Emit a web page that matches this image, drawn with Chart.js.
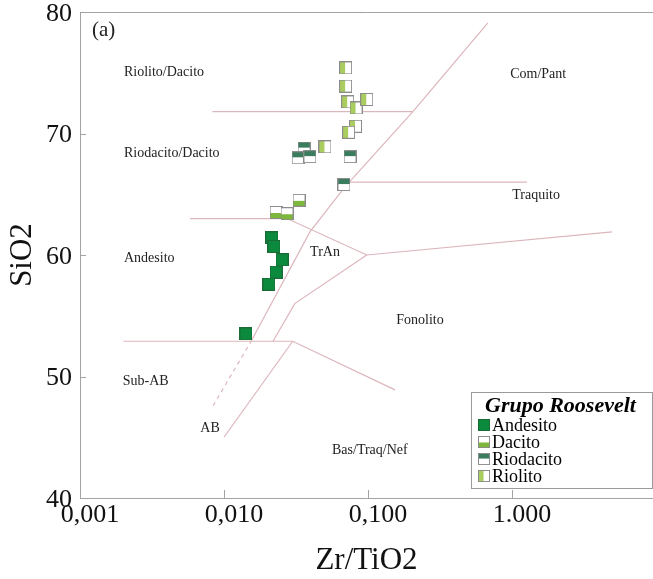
<!DOCTYPE html>
<html>
<head>
<meta charset="utf-8">
<script src="https://cdn.jsdelivr.net/npm/chart.js@4.4.0/dist/chart.umd.min.js"></script>
<style>
  html, body { margin: 0; padding: 0; background: #fff; }
</style>
</head>
<body>
<canvas id="chart" width="653" height="579"></canvas>
<script>
// Zr/TiO2 x SiO2 - Grupo Roosevelt
const xTicks = [0.001, 0.01, 0.1, 1];
const xTickLabels = ["0,001", "0,010", "0,100", "1.000"];
const yTicks = [40, 50, 60, 70, 80];

// amostras
const andesitoZr = [0.0215, 0.0222, 0.0253, 0.0230, 0.0205, 0.0142];
const andesitoSi = [61.4, 60.7, 59.6, 58.6, 57.6, 53.5];
const dacitoZr = [0.0332, 0.0230, 0.0274];
const dacitoSi = [64.5, 63.5, 63.4];
const riodacitoZr = [0.0360, 0.0327, 0.0395, 0.0750, 0.0681];
const riodacitoSi = [68.8, 68.0, 68.1, 68.1, 65.8];
const riolitoZr = [0.0699, 0.0699, 0.0722, 0.0826, 0.0980, 0.0818, 0.0733, 0.0502];
const riolitoSi = [75.4, 73.9, 72.6, 72.1, 72.8, 70.6, 70.1, 68.9];

// limites dos campos [Zr/TiO2, SiO2]
const mainLine = [[0.0156, 53.0], [0.0395, 61.9], [0.0692, 65.6], [0.205, 71.8], [0.68, 79.1]];
const dashedLine = [[0.0084, 47.6], [0.0156, 53.0]];
const riolitoLine = [[0.0083, 71.8], [0.205, 71.8]];
const andesitoLine = [[0.0058, 63.0], [0.0274, 63.0], [0.098, 60.0], [4.95, 61.9]];
const tranLine = [[0.098, 60.0], [0.031, 56.0], [0.0219, 52.9]];
const traquitoLine = [[0.0726, 66.0], [1.27, 66.0]];
const subAbLine = [[0.002, 52.9], [0.030, 52.9], [0.154, 48.9]];
const abLine = [[0.010, 45.0], [0.030, 52.9]];

// nomes dos campos
const fieldLabels = [
  { text: "Riolito/Dacito", x: 0.00202, y: 75.0, align: "left" },
  { text: "Riodacito/Dacito", x: 0.00202, y: 68.4, align: "left" },
  { text: "Andesito", x: 0.00202, y: 59.75, align: "left" },
  { text: "Sub-AB", x: 0.00198, y: 49.6, align: "left" },
  { text: "AB", x: 0.0080, y: 45.7, align: "center" },
  { text: "TrAn", x: 0.0503, y: 60.2, align: "center" },
  { text: "Fonolito", x: 0.2296, y: 54.6, align: "center" },
  { text: "Bas/Traq/Nef", x: 0.103, y: 43.9, align: "center" },
  { text: "Com/Pant", x: 1.52, y: 74.9, align: "center" },
  { text: "Traquito", x: 1.47, y: 64.9, align: "center" },
];
const panelLabel = { text: "(a)", x: 0.00121, y: 78.5 };
const legendTitle = "Grupo Roosevelt";

const serif = "'Liberation Serif', 'DejaVu Serif', serif";
const lineColor = "#dcb6bc";

function toPts(xs, ys) {
  return xs.map((x, i) => ({ x: x, y: ys[i] }));
}

function makeMarker(kind) {
  const c = document.createElement("canvas");
  c.width = 13;
  c.height = 13;
  const g = c.getContext("2d");
  g.fillStyle = "#fff";
  g.fillRect(0, 0, 13, 13);
  if (kind === "andesito") {
    g.fillStyle = "#0b8a3e";
    g.fillRect(0, 0, 13, 13);
    g.strokeStyle = "#1c6b37";
  } else {
    if (kind === "dacito") {
      g.fillStyle = "#7db83c";
      g.fillRect(0, 7, 13, 6);
    } else if (kind === "riodacito") {
      g.fillStyle = "#3a7c5e";
      g.fillRect(0, 0, 13, 6);
    } else {
      g.fillStyle = "#aacd5f";
      g.fillRect(0, 0, 6, 13);
    }
    g.strokeStyle = "#8c8c8c";
  }
  g.lineWidth = 1;
  g.strokeRect(0.5, 0.5, 12, 12);
  return c;
}

function boundary(pts, dashed) {
  return {
    data: pts.map(p => ({ x: p[0], y: p[1] })),
    showLine: true,
    pointRadius: 0,
    borderColor: lineColor,
    borderWidth: 1.2,
    borderDash: dashed ? [4, 4] : [],
    fill: false,
  };
}

// moldura e marcas internas dos eixos
const framePlugin = {
  id: "frame",
  beforeDatasetsDraw(chart) {
    const { ctx, chartArea: a, scales } = chart;
    ctx.save();
    ctx.strokeStyle = "#a3a3a3";
    ctx.lineWidth = 1;
    ctx.beginPath();
    ctx.moveTo(chart.width, a.top + 0.5);
    ctx.lineTo(a.left + 0.5, a.top + 0.5);
    ctx.lineTo(a.left + 0.5, a.bottom + 0.5);
    ctx.lineTo(chart.width, a.bottom + 0.5);
    xTicks.forEach(v => {
      const px = Math.round(scales.x.getPixelForValue(v)) + 0.5;
      ctx.moveTo(px, a.bottom);
      ctx.lineTo(px, a.bottom - 8);
    });
    yTicks.forEach(v => {
      const py = Math.round(scales.y.getPixelForValue(v)) + 0.5;
      ctx.moveTo(a.left, py);
      ctx.lineTo(a.left + 6, py);
    });
    ctx.stroke();
    ctx.restore();
  },
  afterDatasetsDraw(chart) {
    const { ctx, scales } = chart;
    ctx.save();
    ctx.fillStyle = "#222";
    ctx.textBaseline = "middle";
    ctx.font = "14px " + serif;
    fieldLabels.forEach(l => {
      ctx.textAlign = l.align;
      ctx.fillText(l.text, scales.x.getPixelForValue(l.x), scales.y.getPixelForValue(l.y));
    });
    ctx.font = "21px " + serif;
    ctx.textAlign = "left";
    ctx.fillText(panelLabel.text, scales.x.getPixelForValue(panelLabel.x), scales.y.getPixelForValue(panelLabel.y));
    ctx.restore();
  },
};

const legendPlugin = {
  id: "groupLegend",
  afterDraw(chart) {
    const { ctx, chartArea: a } = chart;
    const w = 181, h = 96;
    const x0 = a.right - w - 1, y0 = a.bottom - h - 10;
    ctx.save();
    ctx.fillStyle = "#fff";
    ctx.fillRect(x0, y0, w, h);
    ctx.strokeStyle = "#9a9a9a";
    ctx.lineWidth = 1;
    ctx.strokeRect(x0 + 0.5, y0 + 0.5, w, h);
    ctx.fillStyle = "#000";
    ctx.textBaseline = "middle";
    ctx.textAlign = "left";
    ctx.font = "bold italic 22px " + serif;
    ctx.fillText(legendTitle, x0 + 14, y0 + 14);
    ctx.font = "18px " + serif;
    chart.data.datasets.filter(d => d.label).forEach((d, i) => {
      const cy = y0 + 33 + i * 17;
      ctx.drawImage(d.pointStyle, x0 + 7, cy - 6, 12, 12);
      ctx.fillText(d.label, x0 + 21, cy + 1);
    });
    ctx.restore();
  },
};

const ctx = document.getElementById("chart").getContext("2d");
new Chart(ctx, {
  type: "scatter",
  data: {
    datasets: [
      { label: "Andesito", data: toPts(andesitoZr, andesitoSi), pointStyle: makeMarker("andesito") },
      { label: "Dacito", data: toPts(dacitoZr, dacitoSi), pointStyle: makeMarker("dacito") },
      { label: "Riodacito", data: toPts(riodacitoZr, riodacitoSi), pointStyle: makeMarker("riodacito") },
      { label: "Riolito", data: toPts(riolitoZr, riolitoSi), pointStyle: makeMarker("riolito") },
      boundary(mainLine),
      boundary(dashedLine, true),
      boundary(riolitoLine),
      boundary(andesitoLine),
      boundary(tranLine),
      boundary(traquitoLine),
      boundary(subAbLine),
      boundary(abLine),
    ],
  },
  options: {
    responsive: false,
    animation: false,
    layout: { autoPadding: false, padding: { top: 12, right: 0, bottom: 0, left: 0 } },
    plugins: {
      legend: { display: false },
      tooltip: { enabled: false },
    },
    scales: {
      x: {
        type: "logarithmic",
        min: 0.001,
        max: 9.53,
        afterBuildTicks: (s) => {
          s.ticks = xTicks.map(v => ({ value: v }));
        },
        afterFit: (s) => {
          s.height = 81;
          s.paddingLeft = 0;
          s.paddingRight = 0;
        },
        grid: { display: false, drawTicks: false },
        border: { display: false },
        ticks: {
          autoSkip: false,
          maxRotation: 0,
          padding: 2,
          labelOffset: 10,
          color: "#111",
          font: { family: serif, size: 26 },
          callback: (v, i) => xTickLabels[i],
        },
        title: {
          display: true,
          text: "Zr/TiO2",
          color: "#111",
          font: { family: serif, size: 31 },
          padding: { top: 0, bottom: 0 },
        },
      },
      y: {
        min: 40,
        max: 80,
        afterBuildTicks: (s) => {
          s.ticks = yTicks.map(v => ({ value: v }));
        },
        afterFit: (s) => {
          s.width = 80;
          s.paddingTop = 0;
          s.paddingBottom = 0;
        },
        grid: { display: false, drawTicks: false },
        border: { display: false },
        ticks: {
          padding: 8,
          labelOffset: 2,
          color: "#111",
          font: { family: serif, size: 26 },
        },
        title: {
          display: true,
          text: "SiO2",
          color: "#111",
          font: { family: serif, size: 31 },
          padding: { top: 4, bottom: 0 },
        },
      },
    },
  },
  plugins: [framePlugin, legendPlugin],
});
</script>
</body>
</html>
